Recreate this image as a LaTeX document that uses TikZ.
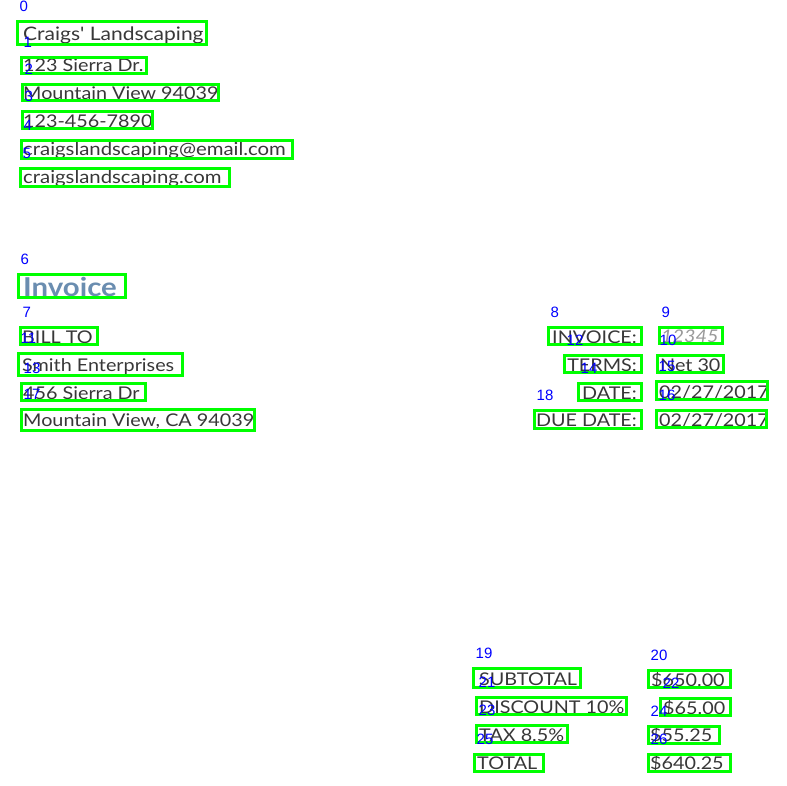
\documentclass[tikz,border=0pt]{standalone}
\usepackage{fontspec}
\setmainfont{Lato}[FakeStretch=1.13]
\newfontfamily\aposfont{Lato}[FakeStretch=1.13]
\newfontfamily\labfont{Liberation Sans}
\definecolor{txt}{HTML}{383838}
\definecolor{inv}{HTML}{6A8DB0}
\definecolor{num}{HTML}{9A9A9A}
\definecolor{gbox}{RGB}{0,255,0}
\definecolor{lab}{RGB}{0,0,255}
\tikzset{
  body/.style={anchor=base west,inner sep=0pt,text=txt,font=\fontsize{17.5}{20}\selectfont},
  bodyr/.style={body,anchor=base east},
  head/.style={body,font=\fontsize{18.6}{22}\selectfont},
  title/.style={body,text=inv,font=\fontsize{26}{30}\selectfont\bfseries},
  gframe/.style={draw=gbox,line width=3pt},
  idlab/.style={anchor=base west,inner sep=0pt,text=lab,font=\labfont\fontsize{15}{16}\selectfont}
}
\newcommand{\annbox}[5]{%
  \draw[gframe] (#2,#3) rectangle (#4,#5);
  \node[idlab] (l#1) at (#2+2.5,#3-9.5) {#1};
}
\begin{document}
\begin{tikzpicture}[x=1pt,y=-1pt]
\useasboundingbox (0,0) rectangle (787,785);
\fill[white] (0,0) rectangle (787,785);
% texts
\node[head] (t0) at (23,40) {Craigs{\aposfont'} Landscaping};
\node[body] (t1) at (23,71) {123 Sierra Dr.};
\node[body] (t2) at (23,99) {Mountain View 94039};
\node[body] (t3) at (23,127) {123-456-7890};
\node[body,font=\fontsize{18}{20}\selectfont] (t4) at (23,155) {craigslandscaping@email.com};
\node[body,font=\fontsize{18}{20}\selectfont] (t5) at (23,183) {craigslandscaping.com};
\node[title] (t6) at (23,296) {Invoice};
\node[body] (t7) at (22,343) {BILL TO};
\node[bodyr] (t8) at (637,343) {INVOICE:};
\node[body,text=num,font=\fontsize{17.5}{20}\selectfont\itshape] (t9) at (661,342) {12345};
\node[body] (t10) at (660,371) {Net 30};
\node[body] (t11) at (22,371) {Smith Enterprises};
\node[bodyr] (t12) at (637,371) {TERMS:};
\node[body] (t13) at (23,399) {456 Sierra Dr};
\node[bodyr] (t14) at (637,399) {DATE:};
\node[body] (t15) at (659,398) {02/27/2017};
\node[body] (t16) at (659,426) {02/27/2017};
\node[body] (t17) at (23,426) {Mountain View, CA 94039};
\node[bodyr] (t18) at (637,426) {DUE DATE:};
\node[body] (t19) at (479,685) {SUBTOTAL};
\node[body] (t20) at (651,686) {\$650.00};
\node[body] (t21) at (479,713) {DISCOUNT 10\%};
\node[body] (t22) at (663,714) {\$65.00};
\node[body] (t23) at (479,741) {TAX 8.5\%};
\node[body] (t24) at (650,741) {\$55.25};
\node[body] (t25) at (477,769) {TOTAL};
\node[body] (t26) at (650,769) {\$640.25};
% annotation boxes
\annbox{0}{17}{21}{206}{44}
\annbox{1}{21}{57}{146}{73}
\annbox{2}{22}{84}{218}{100}
\annbox{3}{22}{111}{152}{128}
\annbox{4}{21}{140}{292}{158}
\annbox{5}{20}{168}{229}{186}
\annbox{6}{18}{274}{125}{297}
\annbox{7}{20}{327}{97}{344}
\annbox{8}{548}{327}{641}{344}
\annbox{9}{659}{327}{722}{343}
\annbox{10}{657}{355}{723}{372}
\annbox{11}{18}{353}{182}{375}
\annbox{12}{564}{355}{641}{372}
\annbox{13}{21}{383}{145}{400}
\annbox{14}{578}{383}{641}{400}
\annbox{15}{656}{381}{767}{399}
\annbox{16}{656}{410}{766}{427}
\annbox{17}{21}{409}{254}{430}
\annbox{18}{534}{410}{641}{428}
\annbox{19}{473}{668}{580}{687}
\annbox{20}{648}{670}{730}{687}
\annbox{21}{476}{697}{626}{714}
\annbox{22}{660}{698}{730}{715}
\annbox{23}{476}{725}{567}{742}
\annbox{24}{648}{726}{719}{743}
\annbox{25}{474}{754}{543}{771}
\annbox{26}{648}{754}{730}{771}
\end{tikzpicture}
\end{document}
